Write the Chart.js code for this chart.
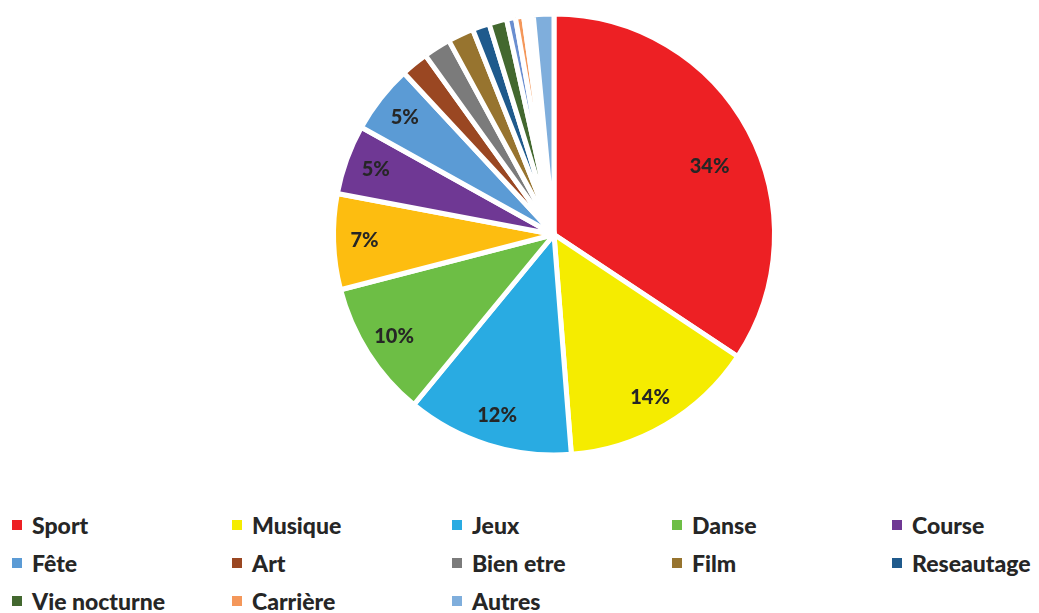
<!DOCTYPE html>
<html>
<head>
<meta charset="utf-8">
<script src="https://cdn.jsdelivr.net/npm/chart.js@4.4.1/dist/chart.umd.min.js"></script>
<style>
  html, body { margin: 0; padding: 0; background: #fff; }
  body { width: 1039px; height: 613px; position: relative; overflow: hidden; font-family: Lato, "Open Sans", sans-serif; }
  #wrap { position: absolute; left: 0; top: 0; width: 1039px; height: 470px; }
  #legend { position: absolute; left: 12px; top: 510px; width: 1030px; display: grid; grid-template-columns: repeat(5, 220px); row-gap: 9px; }
  .item { display: flex; align-items: center; height: 29px; font-weight: 900; font-size: 23px; color: #262626; white-space: nowrap; }
  .box { width: 10px; height: 10px; margin-right: 10px; flex: none; }
</style>
</head>
<body>
<div id="wrap"><canvas id="pie"></canvas></div>
<div id="legend"></div>
<script>
// categories (empty names are slices without a legend entry)
const categories = ['Sport', 'Musique', 'Jeux', 'Danse', '', 'Course', 'Fête', 'Art', 'Bien etre', 'Film',
  'Reseautage', 'Vie nocturne', '', 'Carrière', '', '', 'Autres'];
const shares = [34.3, 14.4, 12.2, 10.0, 7.0, 5.1, 5.0, 2.0, 2.0, 1.9,
  1.25, 1.3, 0.65, 0.6, 0.35, 0.35, 1.5];
const colors = ['#ED2024', '#F5EC00', '#29ABE2', '#6DBE45', '#FDBD10', '#6F3894', '#5B9BD5', '#9A4722', '#7B7B7B', '#97742F',
  '#1F5A8C', '#43682F', '#6A8ED0', '#F4975A', '#F4F4F4', '#F8F8F8', '#7FAEDC'];

const total = shares.reduce((a, b) => a + b, 0);

// étiquettes de pourcentage dans les parts
const pctLabels = {
  id: 'pctLabels',
  afterDatasetsDraw(chart) {
    const ctx = chart.ctx;
    const meta = chart.getDatasetMeta(0);
    ctx.save();
    ctx.font = '900 20px Lato, sans-serif';
    ctx.fillStyle = '#262626';
    ctx.textAlign = 'center';
    ctx.textBaseline = 'middle';
    meta.data.forEach((arc, i) => {
      const pct = shares[i] / total * 100;
      if (pct < 4.5) return;
      const p = arc.getProps(['x', 'y', 'startAngle', 'endAngle', 'outerRadius'], true);
      const mid = (p.startAngle + p.endAngle) / 2;
      const k = pct > 30 ? 0.77 : 0.86;
      const shift = pct > 30 ? 0.08 : 0;
      const x = p.x + Math.cos(mid + shift) * p.outerRadius * k;
      const y = p.y + Math.sin(mid + shift) * p.outerRadius * k;
      ctx.fillText(Math.round(pct) + '%', x, y);
    });
    ctx.restore();
  }
};

const chart = new Chart(document.getElementById('pie'), {
  type: 'pie',
  data: {
    labels: categories,
    datasets: [{
      data: shares,
      backgroundColor: colors,
      borderColor: '#ffffff',
      borderWidth: 5
    }]
  },
  options: {
    responsive: true,
    maintainAspectRatio: false,
    animation: false,
    layout: { padding: { left: 69, right: 0, top: 11.5, bottom: 12.5 } },
    plugins: {
      legend: { display: false },
      tooltip: { enabled: false }
    }
  },
  plugins: [pctLabels]
});

// légende en grille
const legend = document.getElementById('legend');
categories.forEach((name, i) => {
  if (!name) return;
  const el = document.createElement('div');
  el.className = 'item';
  el.innerHTML = '<span class="box" style="background:' + colors[i] + '"></span>' + name;
  legend.appendChild(el);
});
</script>
</body>
</html>
